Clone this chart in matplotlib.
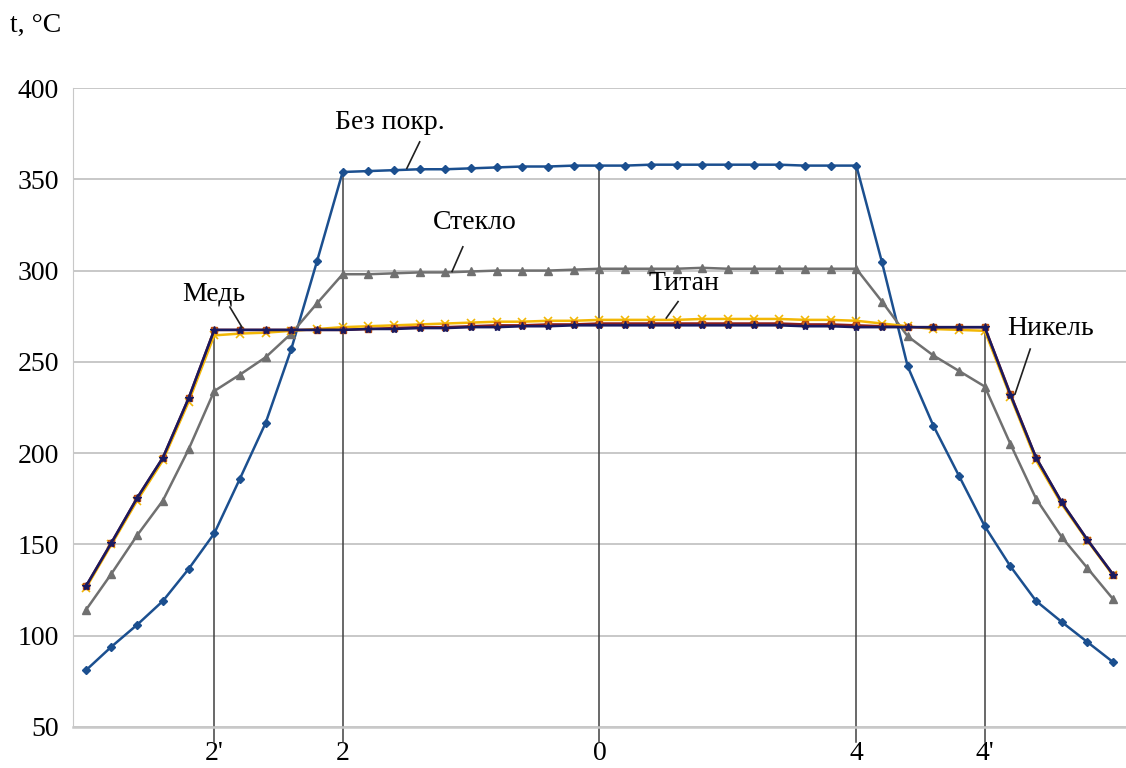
import matplotlib.pyplot as plt

plt.rcParams['font.family'] = ['Liberation Serif', 'DejaVu Serif']

# temperatures along the profile, 41 points
bez_pokr = [81, 94, 106, 119, 136.5, 156, 186, 216.5, 257, 305, 354,
            354.5, 355, 355.5, 355.5, 356, 356.5, 357, 357, 357.5, 357.5,
            357.5, 358, 358, 358, 358, 358, 358, 357.5, 357.5, 357.5,
            304.5, 247.5, 215, 187.5, 160, 138, 119, 107.5, 96.5, 85.5]
steklo = [114, 134, 155, 174, 202, 234, 243, 252.5, 265.5, 282, 298,
          298, 298.5, 299, 299, 299.5, 300, 300, 300, 300.5, 301,
          301, 301, 301, 301.5, 301, 301, 301, 301, 301, 301,
          283, 264, 253.5, 245, 236.5, 205, 175, 154, 137, 120]
med = [127, 151, 175.5, 197.5, 230, 267.5, 267.5, 267.5, 267.5, 267.5, 267.5,
       268, 268, 268.5, 268.5, 269, 269, 269.5, 269.5, 270, 270,
       270, 270, 270, 270, 270, 270, 270, 269.5, 269.5, 269,
       269, 269, 269, 269, 269, 232, 197.5, 173, 152.5, 133.5]
nikel = [127, 151, 175.5, 197.5, 230, 267.5, 267.5, 267.5, 267.5, 267.5, 267.5,
         268, 268.5, 269, 269, 269.5, 270, 270, 270.5, 270.5, 271,
         271, 271, 271, 271, 271, 271, 271, 270.5, 270.5, 270,
         269.5, 269, 269, 269, 269, 232.5, 197.5, 173, 152.5, 133.5]
titan = [126, 150, 174, 196, 228, 264.5, 265.5, 266, 267, 268, 269,
         269.5, 270, 270.5, 271, 271.5, 272, 272, 272.5, 272.5, 273,
         273, 273, 273, 273.5, 273.5, 273.5, 273.5, 273, 273, 272.5,
         271, 269.5, 268, 267.5, 267, 231, 196, 172, 152, 133]

x = list(range(len(bez_pokr)))
tick_pos = [5, 10, 20, 30, 35]
tick_labels = ["2'", "2", "0", "4", "4'"]

fig = plt.figure(figsize=(11.26, 7.68), dpi=100)
ax = fig.add_axes([0.0648, 0.0534, 0.9352, 0.832])

ax.set_xlim(-0.5, 40.5)
ax.set_ylim(50, 400)
ax.set_yticks(range(50, 401, 50))
ax.grid(axis='y', color='#c8c8c8', lw=1.4)
ax.set_axisbelow(True)
for s in ['top', 'right']:
    ax.spines[s].set_visible(False)
ax.spines['left'].set_color('#c8c8c8')
ax.spines['bottom'].set_color('#c8c8c8')
ax.spines['bottom'].set_linewidth(1.8)
ax.tick_params(axis='y', length=0, labelsize=20, pad=10)
ax.tick_params(axis='x', length=0, labelsize=20, pad=10)
ax.set_xticks(tick_pos)
ax.set_xticklabels(tick_labels)

# vertical marker lines
for p in tick_pos:
    top = max(bez_pokr[p], steklo[p], med[p], nikel[p], titan[p])
    ax.plot([p, p], [42, top], color='#404040', lw=1.1, clip_on=False, zorder=1)

ax.plot(x, bez_pokr, color='#1b4f8f', lw=1.8, marker='D', ms=4.5, zorder=3)
ax.plot(x, steklo, color='#707070', lw=1.8, marker='^', ms=6, zorder=3)
ax.plot(x, titan, color='#f2b705', lw=1.8, marker='x', ms=6, mew=1.2, zorder=4)
ax.plot(x, nikel, color='#8b1e1e', lw=1.8, marker='s', ms=5, mfc='#e07020',
        mec='#c05010', zorder=5)
ax.plot(x, med, color='#1a1a60', lw=1.8, marker='*', ms=6, zorder=6)

def label(text, tx, ty, lx0, ly0, lx1, ly1):
    # text and leader line in data coords
    ax.text(tx, ty, text, fontsize=20, ha='center', va='center', zorder=7)
    ax.plot([lx0, lx1], [ly0, ly1], color='#202020', lw=1.2, zorder=7)

label('Без покр.', 11.84, 381, 13.0, 370.5, 12.5, 356)
label('Стекло', 15.15, 326.5, 14.68, 313, 14.26, 299.5)
label('Медь', 4.99, 287, 5.61, 280, 6.08, 269)
label('Титан', 23.3, 293, 23.06, 283, 22.6, 274)
label('Никель', 37.55, 268.5, 36.77, 257, 36.18, 232.4)

fig.text(0.009, 0.967, 't, °C', fontsize=20, ha='left', va='center')

fig.savefig('out.png', dpi=100)
